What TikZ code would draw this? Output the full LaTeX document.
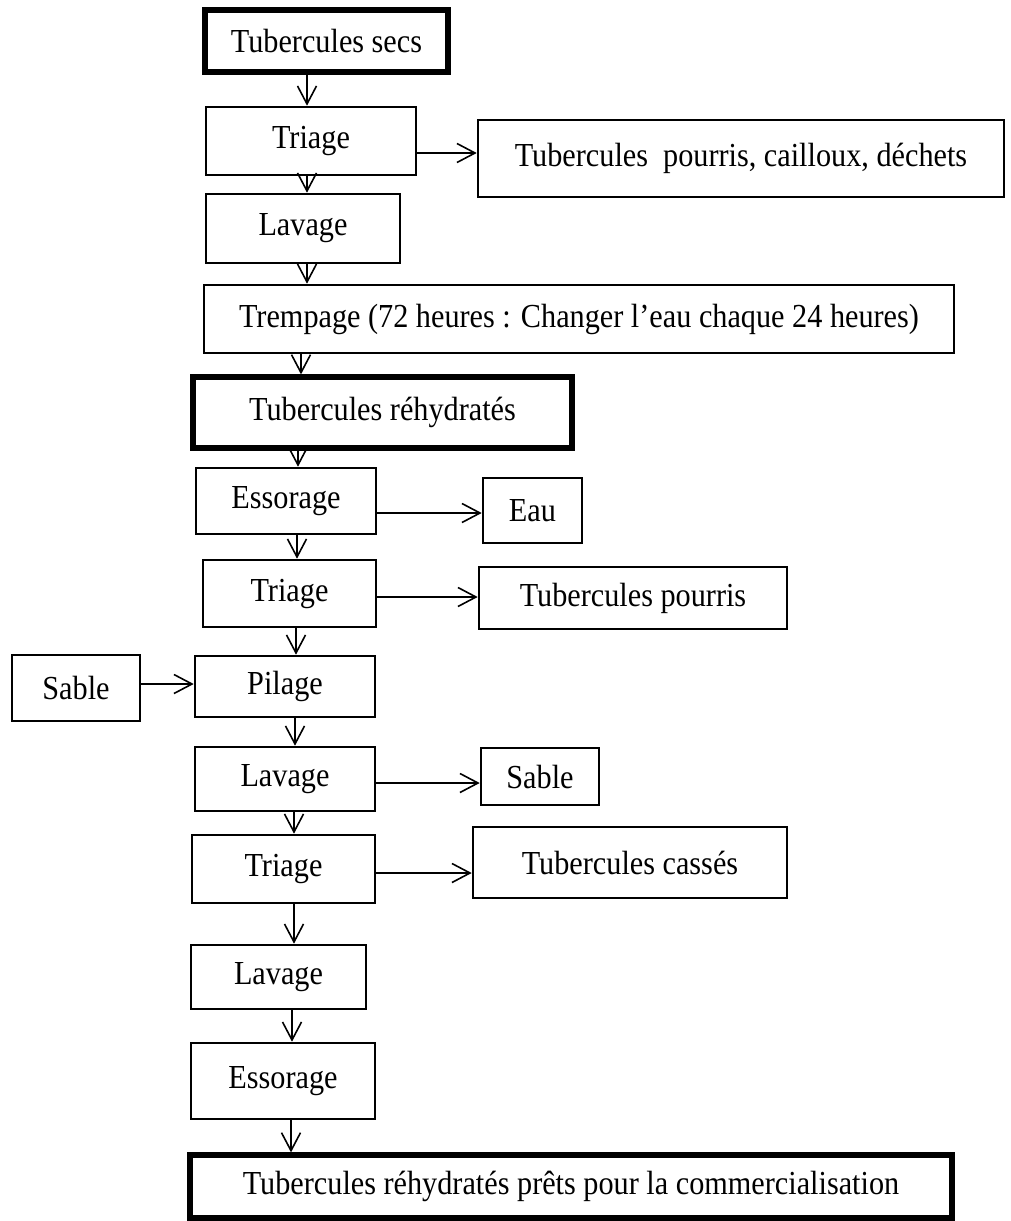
\documentclass[tikz,border=0pt]{standalone}
\usepackage{fontspec}
\setmainfont{Liberation Serif}[FakeStretch=0.9]
\usetikzlibrary{arrows.meta}
\tikzset{
  boite/.style={draw,line width=1.3pt,inner sep=0pt,font=\fontsize{16.8}{20}\selectfont},
  epais/.style={boite,line width=2.6pt},
  taille/.style 2 args={minimum width={#1*0.5pt},minimum height={#2*0.5pt}},
  fleche/.style={-{Straight Barb[length=9pt,width=9.5pt]},line width=0.8pt}
}
\begin{document}
\begin{tikzpicture}[x=0.5pt,y=-0.5pt]
\useasboundingbox (0,0) rectangle (1011,1221);
% colonne principale
\node[epais,taille={243}{62}] (secs) at (326.5,41) {Tubercules secs};
\node[boite,taille={210}{68}] (triage1) at (311,141) {Triage};
\node[boite,taille={194}{69}] (lavage1) at (303,228.5) {Lavage};
\node[boite,taille={750}{68}] (trempage) at (579,319) {Trempage (72 heures : Changer l’eau chaque 24 heures)};
\node[epais,taille={379}{71}] (rehyd) at (382.5,412.5) {Tubercules réhydratés};
\node[boite,taille={180}{66}] (essorage1) at (286,501) {Essorage};
\node[boite,taille={173}{67}] (triage2) at (289.5,593.5) {Triage};
\node[boite,taille={180}{61}] (pilage) at (285,686.5) {Pilage};
\node[boite,taille={180}{64}] (lavage2) at (285,779) {Lavage};
\node[boite,taille={183}{68}] (triage3) at (283.5,869) {Triage};
\node[boite,taille={175}{64}] (lavage3) at (278.5,977) {Lavage};
\node[boite,taille={184}{76}] (essorage2) at (283,1081) {Essorage};
\node[epais,taille={762}{63}] (final) at (571,1186.5) {Tubercules réhydratés prêts pour la commercialisation};
% entrees et sorties
\node[boite,taille={526}{77}] (dechets) at (741,158.5) {Tubercules~ pourris, cailloux, déchets};
\node[boite,taille={99}{65}] (eau) at (532.5,510.5) {Eau};
\node[boite,taille={308}{62}] (pourris) at (633,598) {Tubercules pourris};
\node[boite,taille={128}{66}] (sableG) at (76,688) {Sable};
\node[boite,taille={118}{57}] (sableD) at (540,776.5) {Sable};
\node[boite,taille={314}{71}] (casses) at (630,862.5) {Tubercules cassés};
% fleches
\foreach \a/\b/\x in {secs/triage1/307,triage1/lavage1/307,lavage1/trempage/307,
  trempage/rehyd/301,rehyd/essorage1/298,essorage1/triage2/297,triage2/pilage/296,
  pilage/lavage2/295,lavage2/triage3/294,triage3/lavage3/294,lavage3/essorage2/292,
  essorage2/final/291}
  \draw[fleche] (\a.south -| \x,0) -- (\b.north -| \x,0);
\foreach \a/\b/\y in {triage1/dechets/153,essorage1/eau/513,triage2/pourris/597,
  sableG/pilage/684,lavage2/sableD/783,triage3/casses/873}
  \draw[fleche] (\a.east |- 0,\y) -- (\b.west |- 0,\y);
\end{tikzpicture}
\end{document}
